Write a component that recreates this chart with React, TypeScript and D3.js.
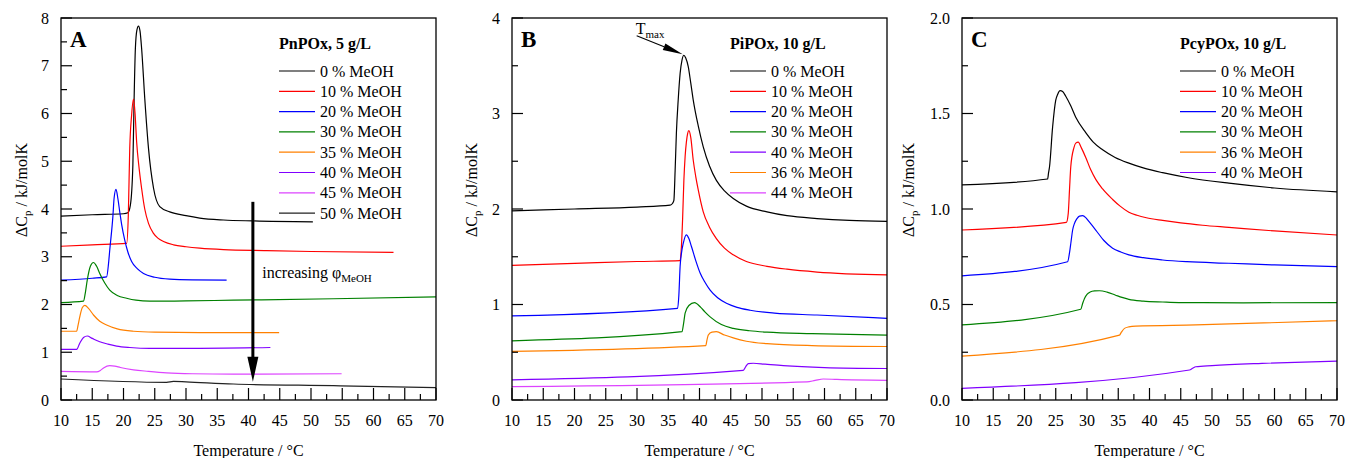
import React from "react";
import * as d3 from "d3";

type Pt = [number, number];

// ---------- Panel A: PnPOx, 5 g/L ----------
const A_labels = ["0 % MeOH", "10 % MeOH", "20 % MeOH", "30 % MeOH", "35 % MeOH", "40 % MeOH", "45 % MeOH", "50 % MeOH"];
const A_colors = ["#000000", "#ff0000", "#0000ff", "#008000", "#ff8000", "#8000ff", "#dd44ff", "#222222"];
const A0: Pt[] = [[10, 3.85], [15, 3.88], [20, 3.9], [20.7, 3.92], [21.1, 4.08], [21.5, 4.92], [21.7, 6.32], [21.9, 7.36], [22.15, 7.75], [22.4, 7.83], [22.65, 7.72], [22.9, 7.36], [23.4, 6.32], [24.0, 5.27], [24.8, 4.44], [25.8, 4.05], [27.4, 3.94], [30, 3.86], [32.2, 3.81], [36, 3.77], [40.7, 3.75], [50.3, 3.73]];
const A10: Pt[] = [[10, 3.22], [15, 3.25], [20.5, 3.28], [20.77, 3.87], [21.0, 5.27], [21.3, 5.97], [21.6, 6.3], [21.85, 6.0], [22.1, 5.41], [22.5, 4.85], [22.9, 4.43], [23.4, 4.0], [24.0, 3.7], [24.8, 3.49], [25.5, 3.39], [26.4, 3.32], [28, 3.25], [30, 3.21], [32.2, 3.18], [36, 3.15], [42.9, 3.13], [50, 3.11], [63.2, 3.09]];
const A20: Pt[] = [[10, 2.51], [15, 2.55], [17.3, 2.58], [17.6, 2.85], [17.8, 3.14], [18.3, 3.84], [18.5, 4.23], [18.8, 4.41], [19.1, 4.22], [19.4, 3.94], [19.7, 3.68], [20.2, 3.35], [20.7, 3.1], [21.3, 2.9], [22.2, 2.75], [23.2, 2.65], [25, 2.57], [27.4, 2.53], [31, 2.515], [36.5, 2.51]];
const A30: Pt[] = [[10, 2.04], [13.6, 2.07], [13.9, 2.25], [14.2, 2.51], [14.7, 2.8], [15.2, 2.88], [15.7, 2.8], [16.2, 2.65], [17, 2.45], [17.8, 2.3], [19, 2.19], [20.5, 2.13], [22, 2.09], [24.2, 2.07], [30, 2.075], [37.6, 2.09], [53.6, 2.12], [70, 2.16]];
const A35: Pt[] = [[10, 1.44], [12.5, 1.44], [12.75, 1.58], [13.0, 1.74], [13.4, 1.93], [13.8, 1.98], [14.4, 1.92], [15.2, 1.78], [16.2, 1.65], [17.3, 1.57], [19, 1.49], [21.6, 1.44], [25, 1.42], [32.2, 1.41], [44.9, 1.41]];
const A40: Pt[] = [[10, 1.06], [12.5, 1.06], [13.0, 1.19], [13.6, 1.31], [14.2, 1.34], [15.0, 1.29], [16.2, 1.22], [17.5, 1.17], [18.9, 1.13], [21, 1.1], [24.2, 1.08], [30, 1.08], [43.5, 1.1]];
const A45: Pt[] = [[10, 0.6], [15.7, 0.59], [16.3, 0.62], [16.8, 0.67], [17.8, 0.72], [18.6, 0.71], [19.5, 0.68], [21.6, 0.63], [24, 0.6], [26.9, 0.57], [31, 0.55], [37.6, 0.54], [54.9, 0.55]];
const A50: Pt[] = [[10, 0.44], [26.9, 0.37], [28, 0.39], [30, 0.38], [37.6, 0.335], [53.6, 0.3], [70, 0.26]];

// ---------- Panel B: PiPOx, 10 g/L ----------
const B_labels = ["0 % MeOH", "10 % MeOH", "20 % MeOH", "30 % MeOH", "40 % MeOH", "36 % MeOH", "44 % MeOH"];
const B_colors = ["#000000", "#ff0000", "#0000ff", "#008000", "#8000ff", "#ff8000", "#dd44ff"];
const B0: Pt[] = [[10, 1.98], [20, 2.0], [30, 2.02], [35.3, 2.04], [35.7, 2.06], [35.9, 2.09], [36.1, 2.4], [36.3, 2.79], [36.6, 3.15], [36.9, 3.42], [37.2, 3.56], [37.5, 3.61], [37.8, 3.58], [38.2, 3.49], [38.6, 3.32], [39.0, 3.14], [39.8, 2.87], [40.6, 2.65], [41.6, 2.45], [42.7, 2.3], [44.0, 2.19], [45.4, 2.11], [47.5, 2.03], [50.8, 1.97], [54, 1.93], [58.8, 1.9], [64, 1.88], [70, 1.87]];
const B10: Pt[] = [[10, 1.41], [20, 1.43], [30, 1.45], [36.9, 1.46], [37.1, 1.6], [37.3, 1.9], [37.5, 2.3], [37.7, 2.55], [37.9, 2.7], [38.1, 2.79], [38.3, 2.82], [38.6, 2.75], [39.0, 2.51], [39.4, 2.34], [39.8, 2.2], [40.6, 1.97], [41.6, 1.81], [42.7, 1.69], [44.0, 1.59], [45.4, 1.52], [47.5, 1.45], [50.8, 1.4], [54, 1.37], [58.8, 1.34], [70, 1.31]];
const B20: Pt[] = [[10, 0.88], [36.5, 0.96], [36.7, 1.1], [36.9, 1.4], [37.1, 1.53], [37.4, 1.64], [37.9, 1.73], [38.3, 1.69], [38.7, 1.61], [39.4, 1.46], [40.1, 1.33], [40.9, 1.23], [41.7, 1.15], [42.9, 1.07], [44.4, 1.01], [46, 0.97], [48.1, 0.94], [52, 0.91], [58.8, 0.89], [70, 0.855]];
const B30: Pt[] = [[10, 0.62], [37.2, 0.715], [37.45, 0.8], [37.7, 0.91], [38.3, 0.99], [39.2, 1.02], [40.2, 0.97], [40.9, 0.92], [41.7, 0.87], [43.5, 0.79], [45.4, 0.75], [48, 0.725], [50.8, 0.71], [58, 0.695], [70, 0.68]];
const B40: Pt[] = [[10, 0.21], [47.0, 0.31], [47.4, 0.35], [47.8, 0.38], [48.6, 0.385], [50.5, 0.375], [53.4, 0.36], [60, 0.34], [70, 0.33]];
const B36: Pt[] = [[10, 0.51], [41.0, 0.57], [41.2, 0.63], [41.4, 0.68], [42.0, 0.71], [42.7, 0.715], [44, 0.68], [45.4, 0.65], [47.5, 0.615], [50.8, 0.59], [58, 0.57], [70, 0.56]];
const B44: Pt[] = [[10, 0.14], [57.2, 0.19], [58.5, 0.205], [59.8, 0.22], [62, 0.215], [70, 0.205]];

// ---------- Panel C: PcyPOx, 10 g/L ----------
const C_labels = ["0 % MeOH", "10 % MeOH", "20 % MeOH", "30 % MeOH", "36 % MeOH", "40 % MeOH"];
const C_colors = ["#000000", "#ff0000", "#0000ff", "#008000", "#ff8000", "#8000ff"];
const C0: Pt[] = [[10, 1.126], [23.7, 1.157], [23.85, 1.19], [24.0, 1.22], [24.5, 1.43], [25.0, 1.57], [25.3, 1.6], [25.7, 1.62], [26.1, 1.615], [26.6, 1.59], [27.4, 1.54], [28.2, 1.48], [29.8, 1.4], [31, 1.35], [32.5, 1.31], [34.5, 1.27], [36.7, 1.24], [39, 1.215], [42.1, 1.19], [46, 1.165], [52.7, 1.135], [60, 1.11], [70, 1.09]];
const C10: Pt[] = [[10, 0.89], [26.7, 0.93], [27.0, 0.977], [27.2, 1.1], [27.4, 1.22], [27.9, 1.32], [28.2, 1.345], [28.6, 1.35], [29.1, 1.32], [29.8, 1.27], [30.6, 1.205], [31.4, 1.155], [32.5, 1.105], [34.1, 1.05], [35.3, 1.015], [36.7, 0.983], [38, 0.967], [39.5, 0.954], [42.1, 0.94], [45, 0.927], [48.5, 0.915], [52.7, 0.904], [60, 0.885], [70, 0.864]];
const C20: Pt[] = [[10, 0.65], [26.9, 0.724], [27.2, 0.77], [27.45, 0.83], [27.7, 0.89], [28.0, 0.925], [28.4, 0.95], [28.8, 0.963], [29.3, 0.965], [29.8, 0.955], [30.3, 0.935], [31.4, 0.89], [32.7, 0.835], [34.1, 0.795], [35.4, 0.775], [36.7, 0.76], [39, 0.745], [42.1, 0.733], [46, 0.724], [52.7, 0.716], [60, 0.707], [70, 0.698]];
const C30: Pt[] = [[10, 0.393], [29.0, 0.475], [29.3, 0.505], [29.6, 0.532], [30.0, 0.553], [30.5, 0.565], [31.2, 0.571], [32.0, 0.572], [33.2, 0.565], [34.5, 0.55], [35.6, 0.537], [36.7, 0.527], [39, 0.518], [42.1, 0.513], [44.7, 0.51], [55, 0.509], [70, 0.51]];
const C36: Pt[] = [[10, 0.23], [35.2, 0.34], [35.5, 0.355], [36.0, 0.375], [36.7, 0.383], [37.8, 0.387], [47.4, 0.393], [70, 0.415]];
const C40: Pt[] = [[10, 0.061], [46.4, 0.157], [46.9, 0.166], [47.4, 0.174], [50, 0.18], [58, 0.192], [70, 0.204]];

// ---------- ticks ----------
const xMajor = [10, 15, 20, 25, 30, 35, 40, 45, 50, 55, 60, 65, 70];
const xMinor = [12.5, 17.5, 22.5, 27.5, 32.5, 37.5, 42.5, 47.5, 52.5, 57.5, 62.5, 67.5];
const A_yMajor = [0, 1, 2, 3, 4, 5, 6, 7, 8];
const A_yMinor = [0.5, 1.5, 2.5, 3.5, 4.5, 5.5, 6.5, 7.5];
const B_yMajor = [0, 1, 2, 3, 4];
const B_yMinor = [0.5, 1.5, 2.5, 3.5];
const C_yMajor = [0, 0.5, 1.0, 1.5, 2.0];
const C_yMinor = [0.25, 0.75, 1.25, 1.75];

const FONT = "'Liberation Serif', 'Times New Roman', serif";
const TOP = 18;
const BOTTOM = 400;

type PanelProps = {
  left: number;
  right: number;
  yMax: number;
  yMajor: number[];
  yMinor: number[];
  yFmt: (v: number) => string;
  series: Pt[][];
  colors: string[];
  labels: string[];
  title: string;
  letter: string;
  yLabelOffset: number;
  children?: (x: d3.ScaleLinear<number, number>, y: d3.ScaleLinear<number, number>) => React.ReactNode;
};

function Panel(p: PanelProps) {
  const x = d3.scaleLinear().domain([10, 70]).range([p.left, p.right]);
  const y = d3.scaleLinear().domain([0, p.yMax]).range([BOTTOM, TOP]);
  const line = d3
    .line<Pt>()
    .x((d) => x(d[0]))
    .y((d) => y(d[1]))
    .curve(d3.curveMonotoneX);
  const lx = p.left + 218;
  const cx = (p.left + p.right) / 2;
  return (
    <g fontFamily={FONT}>
      {p.series.map((s, i) => (
        <path key={i} d={line(s) || ""} fill="none" stroke={p.colors[i]} strokeWidth={1.2} />
      ))}
      <rect x={p.left} y={TOP} width={p.right - p.left} height={BOTTOM - TOP} fill="none" stroke="#000" strokeWidth={1.3} />
      {xMajor.map((t) => (
        <g key={"xm" + t}>
          <line x1={x(t)} x2={x(t)} y1={BOTTOM} y2={BOTTOM - 12} stroke="#000" strokeWidth={1.2} />
          <text x={x(t)} y={426} textAnchor="middle" fontSize={16}>
            {t}
          </text>
        </g>
      ))}
      {xMinor.map((t) => (
        <line key={"xn" + t} x1={x(t)} x2={x(t)} y1={BOTTOM} y2={BOTTOM - 6} stroke="#000" strokeWidth={1.2} />
      ))}
      {p.yMajor.map((t) => (
        <g key={"ym" + t}>
          <line x1={p.left} x2={p.left + 11} y1={y(t)} y2={y(t)} stroke="#000" strokeWidth={1.2} />
          <text x={p.left - 12} y={y(t) + 5.5} textAnchor="end" fontSize={16}>
            {p.yFmt(t)}
          </text>
        </g>
      ))}
      {p.yMinor.map((t) => (
        <line key={"yn" + t} x1={p.left} x2={p.left + 6} y1={y(t)} y2={y(t)} stroke="#000" strokeWidth={1.2} />
      ))}
      <text x={cx} y={456} textAnchor="middle" fontSize={16}>
        Temperature / °C
      </text>
      <text transform={`translate(${p.left - p.yLabelOffset},${190}) rotate(-90)`} textAnchor="middle" fontSize={16}>
        <tspan>ΔC</tspan>
        <tspan dy={4} fontSize={11}>p</tspan>
        <tspan dy={-4}> / kJ/molK</tspan>
      </text>
      <text x={p.left + 9} y={47} fontSize={23} fontWeight="bold">
        {p.letter}
      </text>
      <text x={lx} y={49} fontSize={16} fontWeight="bold">
        {p.title}
      </text>
      {p.labels.map((l, i) => {
        const ly = 71 + i * 20.3;
        return (
          <g key={"lg" + i}>
            <line x1={lx} x2={lx + 36} y1={ly} y2={ly} stroke={p.colors[i]} strokeWidth={1.2} />
            <text x={lx + 41} y={ly + 5.5} fontSize={16}>
              {l}
            </text>
          </g>
        );
      })}
      {p.children ? p.children(x, y) : null}
    </g>
  );
}

export default function App() {
  return (
    <svg width={1346} height={458} style={{ position: "absolute", left: 0, top: 0, background: "#fff" }}>
      <rect width={1346} height={458} fill="#fff" />
      <Panel
        left={61}
        right={436}
        yMax={8}
        yMajor={A_yMajor}
        yMinor={A_yMinor}
        yFmt={(v) => d3.format("d")(v)}
        series={[A0, A10, A20, A30, A35, A40, A45, A50]}
        colors={A_colors}
        labels={A_labels}
        title="PnPOx, 5 g/L"
        letter="A"
        yLabelOffset={34}
      >
        {(x, y) => {
          const ax = x(40.7);
          const y1 = y(4.15);
          const y2 = y(0.38);
          return (
            <g>
              <line x1={ax} x2={ax} y1={y1} y2={y2 - 22} stroke="#000" strokeWidth={3} />
              <path d={`M${ax - 5.5},${y2 - 25} L${ax + 5.5},${y2 - 25} L${ax},${y2} Z`} fill="#000" />
              <text x={x(42.2)} y={y(2.55)} fontSize={16}>
                increasing φ
                <tspan dy={4} fontSize={11}>MeOH</tspan>
              </text>
            </g>
          );
        }}
      </Panel>
      <Panel
        left={512}
        right={887}
        yMax={4}
        yMajor={B_yMajor}
        yMinor={B_yMinor}
        yFmt={(v) => d3.format("d")(v)}
        series={[B0, B10, B20, B30, B40, B36, B44]}
        colors={B_colors}
        labels={B_labels}
        title="PiPOx, 10 g/L"
        letter="B"
        yLabelOffset={35}
      >
        {(x, y) => {
          const sx = x(29.95);
          const sy = y(3.815);
          const tx = x(37.3);
          const ty = y(3.62);
          const ang = Math.atan2(ty - sy, tx - sx);
          const L = 20;
          const W = 3.5;
          const bx = tx - L * Math.cos(ang);
          const by = ty - L * Math.sin(ang);
          const nx = -Math.sin(ang) * W;
          const ny = Math.cos(ang) * W;
          return (
            <g>
              <line x1={sx} y1={sy} x2={bx} y2={by} stroke="#000" strokeWidth={1.1} />
              <path d={`M${bx + nx},${by + ny} L${bx - nx},${by - ny} L${tx},${ty} Z`} fill="#000" />
              <text x={x(29.8)} y={y(3.83)} fontSize={16} fontFamily={FONT}>
                T<tspan dy={4} fontSize={11}>max</tspan>
              </text>
            </g>
          );
        }}
      </Panel>
      <Panel
        left={962}
        right={1337}
        yMax={2}
        yMajor={C_yMajor}
        yMinor={C_yMinor}
        yFmt={(v) => d3.format(".1f")(v)}
        series={[C0, C10, C20, C30, C36, C40]}
        colors={C_colors}
        labels={C_labels}
        title="PcyPOx, 10 g/L"
        letter="C"
        yLabelOffset={48}
      />
    </svg>
  );
}
